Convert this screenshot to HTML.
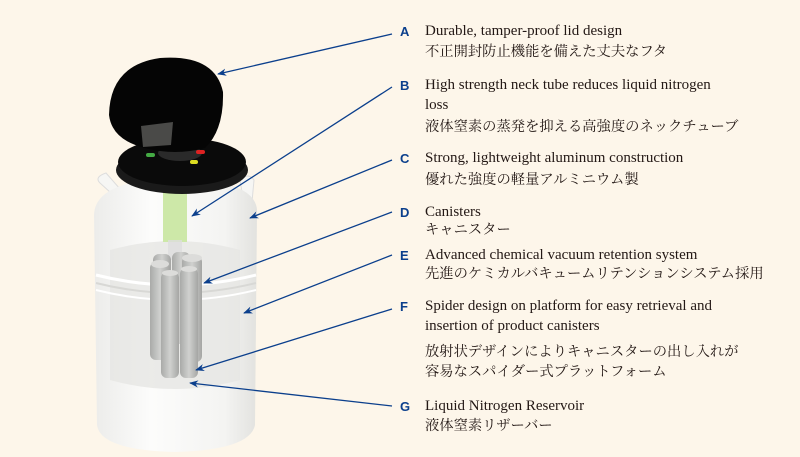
<!DOCTYPE html>
<html><head><meta charset="utf-8"><style>
html,body{margin:0;padding:0;background:#fdf6ea;}
.wrap{position:relative;width:800px;height:457px;overflow:hidden;background:#fdf6ea;font-family:"Liberation Serif","Noto Serif CJK SC",serif;color:#231815;}
.t{position:absolute;left:425px;font-size:15px;line-height:20px;white-space:nowrap;}
.j{font-family:"Liberation Serif","Noto Serif CJK JP","Noto Sans CJK JP",serif;font-size:14.3px;}
.l{position:absolute;left:400px;font-family:"Liberation Sans",sans-serif;font-weight:bold;font-size:13px;color:#0b3f8c;}
svg{position:absolute;left:0;top:0;}
</style></head><body><div class="wrap">
<svg width="800" height="457" viewBox="0 0 800 457">
<defs>
<linearGradient id="body" x1="0" x2="1"><stop offset="0" stop-color="#ececea"/><stop offset=".35" stop-color="#fcfcfb"/><stop offset=".8" stop-color="#f4f4f2"/><stop offset="1" stop-color="#e2e2df"/></linearGradient>
<linearGradient id="can" x1="0" x2="1"><stop offset="0" stop-color="#a9aaa8"/><stop offset=".5" stop-color="#d0d1cf"/><stop offset="1" stop-color="#a5a6a4"/></linearGradient>
<marker id="ar" viewBox="0 0 10 10" refX="9" refY="5" markerWidth="7" markerHeight="7" orient="auto"><path d="M0,1 L10,5 L0,9 L3,5 z" fill="#0b3f8c"/></marker>
</defs>
<path d="M100,183 q-6,-6 6,-10 l22,25 -6,5z" fill="#f6f6f4" stroke="#ddd"/>
<path d="M240,180 q8,-8 14,0 l-2,22 -8,2z" fill="#f6f6f4" stroke="#ddd"/>
<path d="M94,215 Q95,180 175,178 Q255,180 257,210 L255,425 Q250,450 175,452 Q100,450 97,425 Z" fill="url(#body)"/>
<path d="M110,250 Q175,232 240,250 L240,380 Q175,398 110,380Z" fill="#e6e6e3" opacity=".8"/>
<path d="M96,275 Q175,295 256,275" stroke="#fff" stroke-width="3" fill="none"/>
<path d="M96,283 Q175,303 256,283" stroke="#d8d8d5" stroke-width="2" fill="none"/>
<path d="M96,290 Q175,310 256,290" stroke="#fff" stroke-width="2" fill="none"/>
<rect x="163" y="190" width="24" height="52" fill="#cde8a8"/>
<rect x="168" y="240" width="14" height="20" fill="#ddd" opacity=".8"/>
<rect x="153" y="254" width="18" height="90" rx="6" fill="url(#can)"/>
<rect x="172" y="252" width="18" height="92" rx="6" fill="url(#can)"/>
<rect x="150" y="262" width="20" height="98" rx="6" fill="url(#can)"/>
<rect x="182" y="256" width="20" height="106" rx="6" fill="url(#can)"/>
<rect x="161" y="272" width="18" height="106" rx="6" fill="url(#can)"/>
<rect x="180" y="268" width="18" height="110" rx="6" fill="url(#can)"/>
<ellipse cx="160" cy="264" rx="9" ry="4" fill="#dcdcda"/>
<ellipse cx="192" cy="258" rx="10" ry="4" fill="#dcdcda"/>
<ellipse cx="170" cy="273" rx="8" ry="3" fill="#dcdcda"/>
<ellipse cx="189" cy="269" rx="8" ry="3" fill="#dcdcda"/>
<ellipse cx="182" cy="170" rx="66" ry="24" fill="#1a1a1a"/>
<ellipse cx="182" cy="162" rx="64" ry="24" fill="#0a0a0a"/>
<ellipse cx="180" cy="153" rx="22" ry="8" fill="#2a2a2a"/>
<rect x="146" y="153" width="9" height="4" fill="#4a4" rx="2"/>
<rect x="196" y="150" width="9" height="4" fill="#d22" rx="2"/>
<rect x="190" y="160" width="8" height="4" fill="#dd2" rx="2"/>
<rect x="153" y="145" width="7" height="3" fill="#24a" rx="1"/>
<path d="M109,115 Q110,65 160,58 Q215,54 223,92 Q224,130 205,148 Q175,156 145,148 Q112,140 109,115Z" fill="#050505"/>
<path d="M141,126 L173,122 L171,145 L143,147Z" fill="#4a4a48"/>
<g stroke="#0b3f8c" stroke-width="1.3" fill="none" marker-end="url(#ar)">
<line x1="392" y1="34" x2="218" y2="74"/>
<line x1="392" y1="87" x2="192" y2="216"/>
<line x1="392" y1="160" x2="250" y2="218"/>
<line x1="392" y1="212" x2="204" y2="283"/>
<line x1="392" y1="255" x2="244" y2="313"/>
<line x1="392" y1="309" x2="196" y2="370"/>
<line x1="392" y1="406" x2="190" y2="383"/>
</g>
</svg>
<div class="l" style="top:24px">A</div>
<div class="t" style="top:21px">Durable, tamper-proof lid design</div>
<div class="t j" style="top:42px">不正開封防止機能を備えた丈夫なフタ</div>
<div class="l" style="top:78px">B</div>
<div class="t" style="top:75px">High strength neck tube reduces liquid nitrogen<br>loss</div>
<div class="t j" style="top:117px">液体窒素の蒸発を抑える高強度のネックチューブ</div>
<div class="l" style="top:151px">C</div>
<div class="t" style="top:148px">Strong, lightweight aluminum construction</div>
<div class="t j" style="top:170px">優れた強度の軽量アルミニウム製</div>
<div class="l" style="top:205px">D</div>
<div class="t" style="top:202px">Canisters</div>
<div class="t j" style="top:220px">キャニスター</div>
<div class="l" style="top:248px">E</div>
<div class="t" style="top:245px">Advanced chemical vacuum retention system</div>
<div class="t j" style="top:264px">先進のケミカルバキュームリテンションシステム採用</div>
<div class="l" style="top:299px">F</div>
<div class="t" style="top:296px">Spider design on platform for easy retrieval and<br>insertion of product canisters</div>
<div class="t j" style="top:342px">放射状デザインによりキャニスターの出し入れが<br>容易なスパイダー式プラットフォーム</div>
<div class="l" style="top:399px">G</div>
<div class="t" style="top:396px">Liquid Nitrogen Reservoir</div>
<div class="t j" style="top:416px">液体窒素リザーバー</div>
</div></body></html>
